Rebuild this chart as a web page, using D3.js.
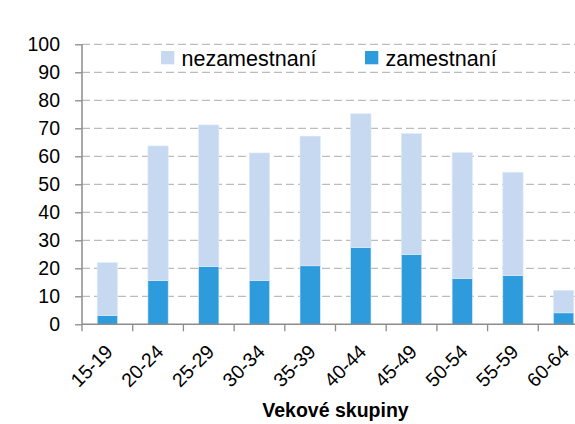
<!DOCTYPE html>
<html lang="sk">
<head>
<meta charset="UTF-8">
<title>Vekové skupiny</title>
<script src="https://d3js.org/d3.v7.min.js"></script>
<style>
    html, body { margin: 0; padding: 0; background: #fff; }
    svg { display: block; font-family: "Liberation Sans", Arial, sans-serif; }
</style>
</head>
<body>
<div id="vis"></div>
<script>
var categories = ["15-19", "20-24", "25-29", "30-34", "35-39", "40-44", "45-49", "50-54", "55-59", "60-64"];
var zamestnani = [3.1, 15.6, 20.6, 15.6, 20.9, 27.4, 24.9, 16.3, 17.4, 4.1];
var nezamestnani = [18.9, 48.1, 50.6, 45.6, 46.3, 47.8, 43.2, 45.0, 36.9, 8.0];
var yTicks = [0, 10, 20, 30, 40, 50, 60, 70, 80, 90, 100];
var seriesNames = ["nezamestnaní", "zamestnaní"];
var colours = { "nezamestnaní": "#c6d9f1", "zamestnaní": "#2e9bdc" };

var width = 575, height = 424;
var margin = { top: 44.3, left: 82 };
var plotW = 507, plotH = 280;   // plot runs a bit past the right edge

var svg = d3.select('#vis').append('svg')
    .attr('width', width)
    .attr('height', height);

var g = svg.append('g')
    .attr('transform', 'translate(' + margin.left + ',' + margin.top + ')');

var x = d3.scaleBand().domain(categories).range([0, plotW]).paddingInner(0.6).paddingOuter(0.3);
var y = d3.scaleLinear().domain([0, 100]).range([plotH, 0]);

// grid
g.selectAll('.grid')
    .data(yTicks.filter(function(d) { return d > 0; }))
    .enter().append('line')
    .attr('x1', 0).attr('x2', width)
    .attr('y1', function(d) { return y(d); })
    .attr('y2', function(d) { return y(d); })
    .attr('stroke', '#bcbcbc')
    .attr('stroke-width', 1.3)
    .attr('stroke-dasharray', '8,4');

// stacked data
var rows = categories.map(function(c, i) {
    return { cat: c, "zamestnaní": zamestnani[i], "nezamestnaní": nezamestnani[i] };
});
var stack = d3.stack().keys(["zamestnaní", "nezamestnaní"])(rows);

g.selectAll('.layer')
    .data(stack)
    .enter().append('g')
    .attr('fill', function(d) { return colours[d.key]; })
    .selectAll('rect')
    .data(function(d) { return d; })
    .enter().append('rect')
    .attr('x', function(d) { return x(d.data.cat); })
    .attr('width', x.bandwidth())
    .attr('y', function(d) { return y(d[1]); })
    .attr('height', function(d) { return y(d[0]) - y(d[1]); })
    .attr('stroke', '#dde9f7')
    .attr('stroke-width', 0.6);

// y axis
var yAxis = g.append('g')
    .call(d3.axisLeft(y).tickValues(yTicks).tickSize(7).tickPadding(15));
yAxis.selectAll('text')
    .attr('font-size', 19.5)
    .attr('fill', '#000')
    .attr('font-family', '"Liberation Sans", Arial, sans-serif');
yAxis.selectAll('line').attr('stroke', '#8c8c8c').attr('stroke-width', 1.3);
yAxis.select('.domain').remove();
g.append('line')
    .attr('x1', 0).attr('x2', 0)
    .attr('y1', 0).attr('y2', plotH)
    .attr('stroke', '#8c8c8c').attr('stroke-width', 1.5);

// x axis
g.append('line')
    .attr('x1', 0).attr('x2', width)
    .attr('y1', plotH).attr('y2', plotH)
    .attr('stroke', '#8c8c8c').attr('stroke-width', 1.5);

var step = x.step();
g.selectAll('.xtick')
    .data(categories)
    .enter().append('line')
    .attr('x1', function(d, i) { return i * step; })
    .attr('x2', function(d, i) { return i * step; })
    .attr('y1', plotH).attr('y2', plotH + 7)
    .attr('stroke', '#8c8c8c').attr('stroke-width', 1.3);

g.selectAll('.xlabel')
    .data(categories)
    .enter().append('text')
    .attr('text-anchor', 'end')
    .attr('font-size', 19.5)
    .attr('transform', function(d) {
        var cx = x(d) + x.bandwidth() / 2 - 3;
        return 'translate(' + cx + ',' + (plotH + 19) + ') rotate(-45)';
    })
    .attr('dy', '0.7em')
    .text(function(d) { return d; });

// axis title
svg.append('text')
    .attr('x', margin.left + plotW / 2)
    .attr('y', 417)
    .attr('text-anchor', 'middle')
    .attr('font-size', 19.5)
    .attr('font-weight', 'bold')
    .text('Vekové skupiny');

// legend
var legendX = [161, 365];
var legend = svg.selectAll('.legend')
    .data(seriesNames)
    .enter().append('g')
    .attr('transform', function(d, i) { return 'translate(' + legendX[i] + ',51)'; });
legend.append('rect')
    .attr('width', 13.3).attr('height', 13.3)
    .attr('fill', function(d) { return colours[d]; });
legend.append('text')
    .attr('x', 20.5)
    .attr('y', 15)
    .attr('font-size', 21.5)
    .text(function(d) { return d; });
</script>
</body>
</html>
